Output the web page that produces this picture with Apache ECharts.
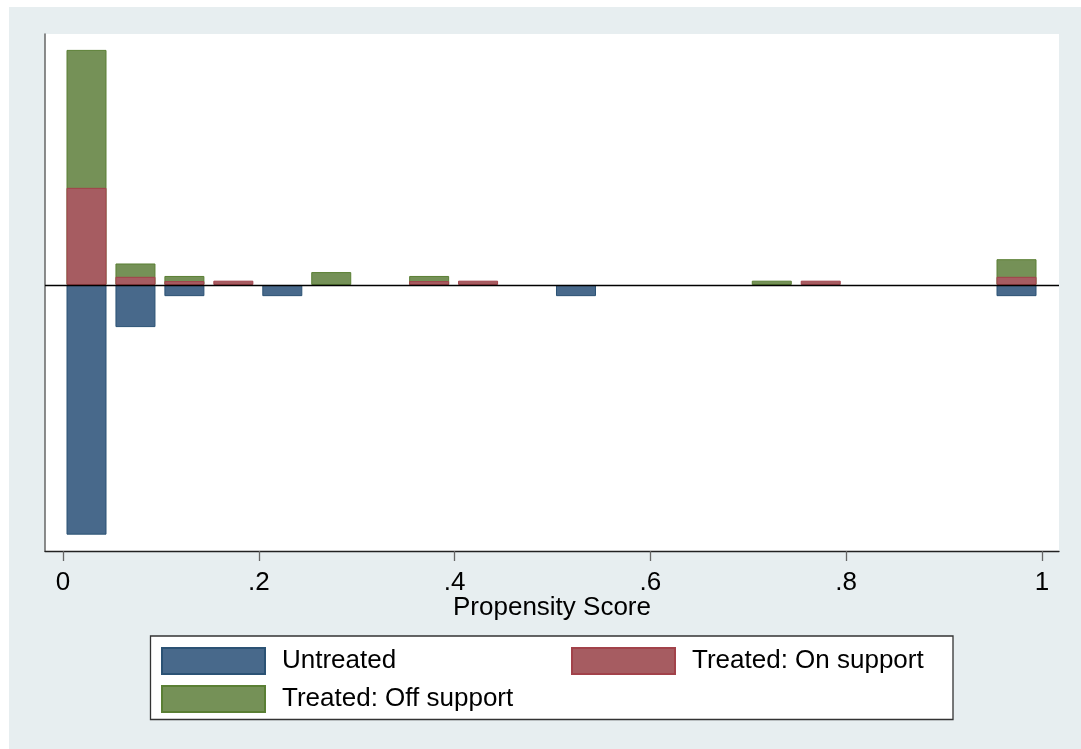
<!DOCTYPE html>
<html>
<head>
<meta charset="utf-8">
<script src="https://cdn.jsdelivr.net/npm/echarts@6/dist/echarts.min.js"></script>
<style>
  html, body { margin: 0; padding: 0; background: #ffffff; }
  #chart {
    width: 1081px; height: 749px;
    background: linear-gradient(#e7eef0, #e7eef0) 9px 7px / 1072px 742px no-repeat, #ffffff;
  }
</style>
</head>
<body>
<div id="chart"></div>
<script>
// Bin centres of the propensity-score histogram
const binCenters = [0.024, 0.074, 0.124, 0.174, 0.224, 0.274, 0.324, 0.374, 0.424, 0.474,
                    0.524, 0.574, 0.624, 0.674, 0.724, 0.774, 0.824, 0.874, 0.924, 0.974];
// Frequencies (untreated drawn below zero)
const untreated  = [-58.1, -9.8, -2.6, 0, -2.6, 0, 0, 0, 0, 0, -2.6, 0, 0, 0, 0, 0, 0, 0, 0, -2.6];
const onSupport  = [22.6, 1.9, 0.9, 1, 0, 0, 0, 0.9, 1, 0, 0, 0, 0, 0, 0, 1, 0, 0, 0, 1.9];
const offSupport = [32.1, 3.1, 1.2, 0, 0, 3, 0, 1.2, 0, 0, 0, 0, 0, 0, 1, 0, 0, 0, 0, 4.1];
const seriesNames = ['Untreated', 'Treated: On support', 'Treated: Off support'];
const xTicks = [0, 0.2, 0.4, 0.6, 0.8, 1];
const xTickLabels = ['0', '.2', '.4', '.6', '.8', '1'];
const xTitle = 'Propensity Score';

const FONT = '"Liberation Sans", Arial, sans-serif';
// zero-height bins are left empty
const pairs = vals => binCenters.map((x, i) => [x, vals[i] === 0 ? null : vals[i]]);
// off-support bars sit on top of the on-support bars: draw their top at the cumulative value
const offTop = offSupport.map((v, i) => v === 0 ? 0 : v + onSupport[i]);

const chart = echarts.init(document.getElementById('chart'), null, { renderer: 'canvas' });

function barSeries(name, vals, fill, border) {
  return {
    name: name, type: 'bar', barWidth: 40, barGap: '-100%',
    data: pairs(vals),
    itemStyle: { color: fill, borderColor: border, borderWidth: 1 },
    emphasis: { disabled: true },
    animation: false
  };
}

const sBlue  = barSeries(seriesNames[0], untreated, '#48698b', '#2b5274');
const sGreen = barSeries(seriesNames[2], offTop, '#759157', '#5a7f34');
const sRed   = barSeries(seriesNames[1], onSupport, '#a65c61', '#a2424a');
sRed.markLine = {
  silent: true, symbol: ['none', 'none'], label: { show: false },
  lineStyle: { color: '#000000', width: 1.3, type: 'solid' },
  data: [{ yAxis: 0 }], z: 10
};

const legendCommon = {
  orient: 'vertical', padding: 0,
  itemGap: 10, itemWidth: 103, itemHeight: 26,
  icon: 'rect', selectedMode: false,
  textStyle: { fontSize: 26, color: '#000', fontFamily: FONT, padding: [0, 0, 0, 12] }
};

chart.setOption({
  animation: false,
  grid: {
    left: 45, top: 34, right: 22, bottom: 198,
    show: true, backgroundColor: '#ffffff', borderWidth: 0
  },
  graphic: [{
    type: 'rect', silent: true, z: -1,
    shape: { x: 150.5, y: 636, width: 802.5, height: 83.5 },
    style: { fill: '#ffffff', stroke: '#333333', lineWidth: 1.3 }
  }],
  xAxis: {
    type: 'value',
    min: -0.0184, max: 1.0174,
    name: xTitle, nameLocation: 'middle', nameGap: 44, nameMoveOverlap: false,
    nameTextStyle: { fontSize: 26, color: '#000', fontFamily: FONT },
    axisLine: { show: true, onZero: false, lineStyle: { color: '#222222', width: 1.3 } },
    axisTick: { show: true, length: 10, customValues: xTicks, lineStyle: { color: '#666666', width: 1.3 } },
    axisLabel: {
      show: true, customValues: xTicks, margin: 19,
      fontSize: 26, color: '#000', fontFamily: FONT,
      formatter: v => { const i = xTicks.findIndex(t => Math.abs(t - v) < 1e-9); return i >= 0 ? xTickLabels[i] : ''; }
    },
    splitLine: { show: false }
  },
  yAxis: {
    type: 'value',
    min: -61.9, max: 58.4,
    axisLine: { show: true, onZero: false, lineStyle: { color: '#666666', width: 1.5 } },
    axisTick: { show: false },
    axisLabel: { show: false },
    splitLine: { show: false }
  },
  legend: [
    Object.assign({}, legendCommon, { left: 161, top: 647, data: [seriesNames[0], seriesNames[2]] }),
    Object.assign({}, legendCommon, { left: 571, top: 647, data: [seriesNames[1]] })
  ],
  series: [sBlue, sGreen, sRed]
});
</script>
</body>
</html>
